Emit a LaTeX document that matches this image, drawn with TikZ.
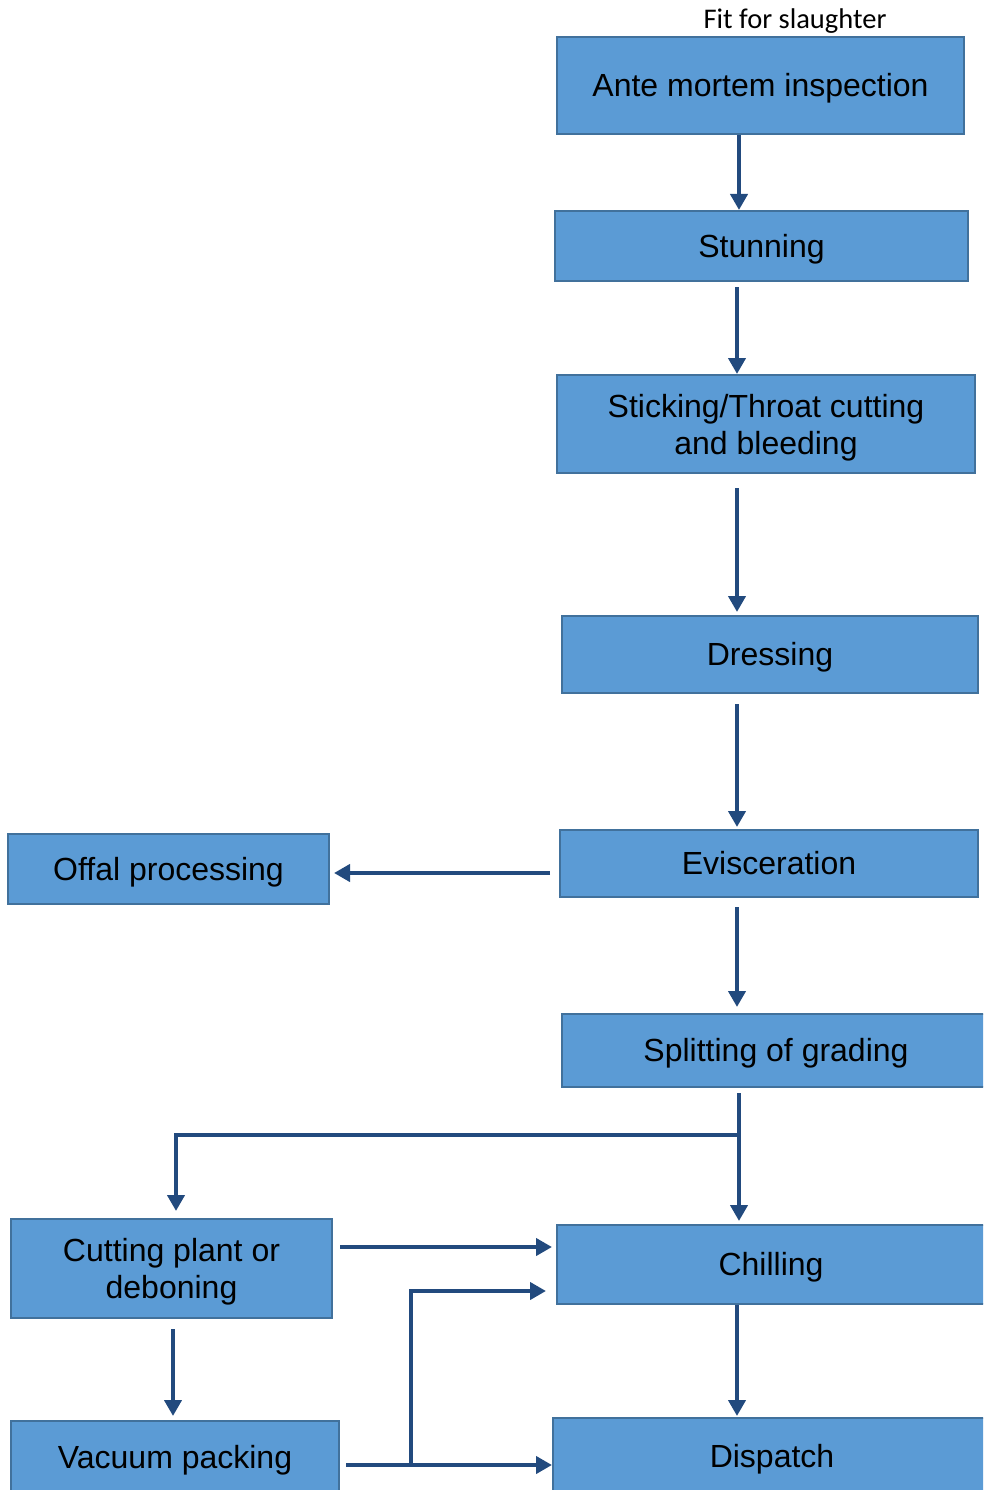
\documentclass[tikz,border=0pt]{standalone}
\usepackage{fontspec}
\setmainfont{Liberation Sans}
\newfontfamily\fitfont{Carlito}
\usetikzlibrary{arrows.meta}
\definecolor{boxfill}{HTML}{5B9BD5}
\definecolor{boxline}{HTML}{41719C}
\definecolor{arrcol}{HTML}{224A7E}
\tikzset{
  procbox/.style={draw=boxline, fill=boxfill, line width=2pt, inner sep=0pt,
    align=center, font=\fontsize{32}{37}\selectfont, text depth=0pt},
  oneline/.style={procbox, text height=22.9pt},
  arr/.style={draw=arrcol, line width=4pt, -{Triangle[length=16pt,width=17pt]}},
}
\begin{document}
\begin{tikzpicture}[x=1pt,y=-1pt]
\useasboundingbox (0,0) rectangle (983,1490);
\clip (0,0) rectangle (983,1490);
% boxes
\node[oneline, minimum width=407pt, minimum height=97pt] (ante) at (760.5,85.5) {Ante mortem inspection};
\node[font=\fitfont\fontsize{28.5}{32}\selectfont, inner sep=0pt] (fit) at (795,21) {Fit for slaughter};
\node[oneline, minimum width=413pt, minimum height=70pt] (stun) at (761.5,246) {Stunning};
\node[procbox, minimum width=418pt, minimum height=98pt] (stick) at (766,424) {Sticking/Throat cutting\\and bleeding};
\node[oneline, minimum width=416pt, minimum height=77pt] (dress) at (770,654.5) {Dressing};
\node[oneline, minimum width=418pt, minimum height=67pt] (evisc) at (769,863.5) {Evisceration};
\node[oneline, minimum width=321pt, minimum height=70pt] (offal) at (168.5,869) {Offal processing};
\node[oneline, minimum width=428pt, minimum height=73pt] (split) at (776,1050.5) {Splitting of grading};
\node[procbox, minimum width=321pt, minimum height=99pt] (cut) at (171.5,1268.5) {Cutting plant or\\deboning};
\node[oneline, minimum width=428pt, minimum height=79pt] (chill) at (771,1264.5) {Chilling};
\node[oneline, minimum width=328pt, minimum height=72pt] (vac) at (175,1457) {Vacuum packing};
\node[oneline, minimum width=438pt, minimum height=76pt] (disp) at (772,1456) {Dispatch};
% junction points
\coordinate (j1) at (739,1135);
\coordinate (j2) at (411,1465);
% connectors
\draw[arr] ([xshift=-21.5pt]ante.south) -- ([xshift=-22.5pt]stun.north);
\draw[arr] ([shift={(-24.5pt,-5pt)}]stun.south) -- ([xshift=-29pt]stick.north);
\draw[arr] ([shift={(-29pt,-14pt)}]stick.south) -- ([shift={(-33pt,3pt)}]dress.north);
\draw[arr] ([shift={(-33pt,-10pt)}]dress.south) -- ([shift={(-32pt,2pt)}]evisc.north);
\draw[arr] ([shift={(-9pt,-9.5pt)}]evisc.west) -- ([shift={(4pt,-4pt)}]offal.east);
\draw[arr] ([shift={(-32pt,-9pt)}]evisc.south) -- ([shift={(-39pt,6pt)}]split.north);
\draw[arr] ([shift={(-37pt,-5pt)}]split.south) -- ([shift={(-32pt,3pt)}]chill.north);
\draw[arr] (j1) -| ([shift={(4.5pt,7pt)}]cut.north);
\draw[arr] ([shift={(7pt,21.5pt)}]cut.east) -- ([shift={(-4pt,17.5pt)}]chill.west);
\draw[arr] ([shift={(1.5pt,-10pt)}]cut.south) -- ([shift={(-2pt,4pt)}]vac.north);
\draw[arr] ([xshift=-34pt]chill.south) -- ([shift={(-35pt,1pt)}]disp.north);
\draw[arr] ([shift={(6pt,-8pt)}]vac.east) -- ([yshift=-9pt]disp.west);
\draw[arr] ([yshift=2pt]j2) |- ([shift={(-10pt,-26.5pt)}]chill.west);
\end{tikzpicture}
\end{document}
